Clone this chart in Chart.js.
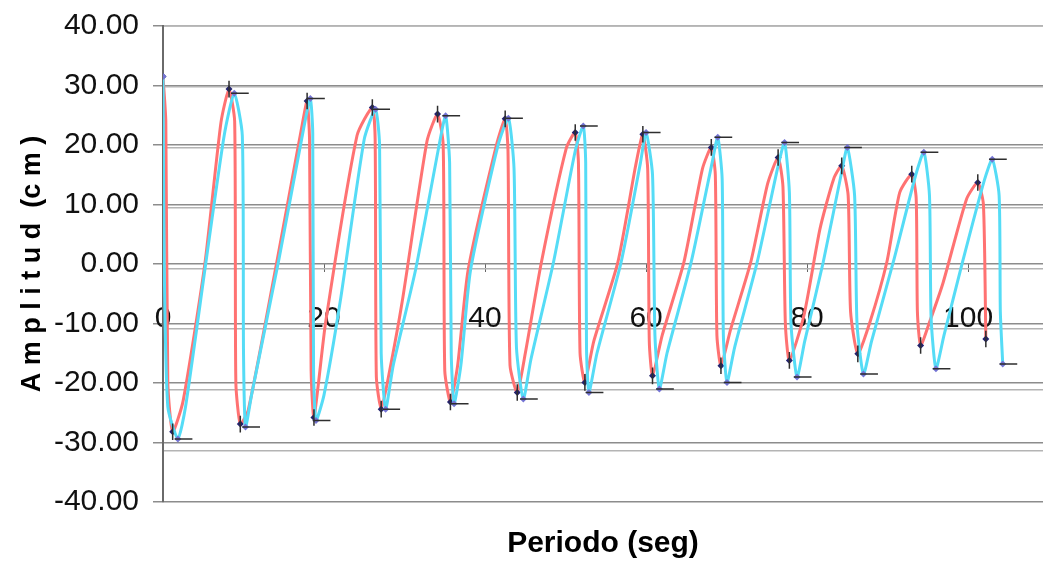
<!DOCTYPE html>
<html>
<head>
<meta charset="utf-8">
<script src="https://cdn.jsdelivr.net/npm/chart.js@4/dist/chart.umd.min.js"></script>
<style>
  body { margin: 0; background: #ffffff; }
  #contenedor { width: 1047px; height: 568px; }
</style>
</head>
<body>
<div id="contenedor"><canvas id="graficoAmplitud" width="1047" height="568"></canvas></div>
<script>
// serie roja
const tiempoRojo = [0, 0.35, 0.6, 1.2, 2.5, 5.2, 7.2, 8.2, 8.9, 9.05, 9.6, 10.6, 14.2, 17.3, 17.9, 18.2, 18.4, 18.75,
  20.2, 24.1, 26.0, 26.35, 26.5, 27.1, 28.0, 29.7, 32.8, 34.1, 34.8, 35.0, 35.7, 36.6, 37.9, 41.4, 42.5, 42.85, 43.1, 44.0,
  45.0, 47.0, 50.1, 51.2, 51.6, 51.8, 52.4, 53.5, 56.5, 58.7, 59.6, 60.2, 60.4, 60.8, 62.0, 64.7, 67.0, 68.1, 68.6, 68.8, 69.3,
  70.5, 73.0, 75.1, 76.4, 77.0, 77.3, 77.8, 79.6, 81.6, 83.3, 84.3, 85.1, 85.4, 86.3, 87.8, 89.9, 91.5, 93.0, 93.55, 93.7, 94.1,
  95.2, 96.9, 99.8, 101.2, 101.9, 102.2];
const amplitudRojo = [31.5, 24, -20, -28.2, -23, 0, 23.8, 29.4, 24, -20, -26.9, -24.5, 0.8, 23.5, 27.4, 21, -18, -25.8,
  -9.8, 21.6, 26.3, 21, -19, -24.4, -19, -6.4, 20.7, 25.2, 20, -18, -23.2, -17, -1, 19.9, 24.4, 19, -17, -21.6,
  -15, 0.3, 19.5, 22.1, 17, -15, -19.9, -13, 0.3, 16.5, 21.8, 16, -13, -18.8, -12, 0.3, 16, 19.6, 15, -12, -17.1,
  -11, 0.3, 13.5, 17.9, 13, -10, -16.2, -8.7, 5.9, 14.3, 16.5, 11.5, -8, -15.1, -9.8, 0.3, 12.0, 15.1, 11, -8, -13.7,
  -9.8, -3.1, 10.9, 13.7, 10, -12.6];

// serie celeste
const tiempoCian = [0, 0.15, 0.6, 1.85, 2.8, 5.3, 7.6, 8.85, 9.85, 10.0, 10.25, 11.0, 14.4, 17.5, 18.3, 18.6, 18.7, 19.0,
  20.0, 22.0, 25.0, 26.4, 26.9, 27.1, 27.65, 28.6, 31.4, 34.3, 35.1, 35.6, 35.8, 36.15, 37.0, 38.2, 41.6, 42.9, 43.6, 43.9, 44.75,
  45.7, 48.5, 51.2, 52.2, 52.5, 52.6, 52.9, 53.9, 56.9, 59.3, 60.0, 60.8, 61.1, 61.65, 62.6, 65.6, 68.2, 68.9, 69.45, 69.6, 70.05,
  71.0, 73.8, 76.4, 77.2, 77.8, 78.0, 78.75, 79.7, 82.0, 84.3, 85.0, 85.9, 86.2, 87.0, 88.0, 90.7, 93.5, 94.5, 95.2, 95.4, 96.0,
  97.0, 99.3, 102.0, 103.0, 103.85, 104.0, 104.3];
const amplitudCian = [31.5, 0, -24, -29.4, -24, 0, 21.6, 28.7, 21.6, -15, -27.4, -22, 0.8, 23, 27.8, 22, -18, -26.3,
  -22, -6.4, 21, 26.0, 20, -15, -24.4, -17, -0.8, 20, 24.9, 17, -15, -23.5, -17, -1, 19.9, 24.5, 16, -14, -22.7,
  -16, 0.3, 19, 23.2, 17, -14, -21.6, -15, 0.3, 17, 22.1, 15, -12, -21.0, -15, 0.3, 17, 21.3, 14.3, -12, -19.9,
  -14, 0.3, 16.5, 20.4, 12, -10, -19.0, -13, 0.3, 15.5, 19.6, 11.5, -10, -18.5, -13, 0.3, 15, 18.8, 11.5, -9, -17.6,
  -12, 0.3, 14, 17.6, 11.5, -8, -16.8];

const errorTiempo = 1.8;
const errorAmplitud = 1.4;

const marcasX = [0, 20, 40, 60, 80, 100];
const marcasY = [-40, -30, -20, -10, 0, 10, 20, 30, 40];
const marcasY2 = [-30, -20, -10, 0, 10, 20, 30, 40];

const fuente = "'Liberation Sans', Arial, sans-serif";

function puntos(ts, ys) {
    return ts.map((t, i) => ({ x: t, y: ys[i] }));
}

function esExtremo(ys, i) {
    if (i === 0 || i === ys.length - 1) return true;
    return (ys[i] > ys[i - 1] && ys[i] > ys[i + 1]) || (ys[i] < ys[i - 1] && ys[i] < ys[i + 1]);
}

function barrasError() {
    const segs = [];
    tiempoCian.forEach((t, i) => {
        if (i === 0 || !esExtremo(amplitudCian, i)) return;
        const y = amplitudCian[i];
        segs.push({ x: t - 0.4, y: y }, { x: t + errorTiempo, y: y }, { x: t, y: null });
    });
    tiempoRojo.forEach((t, i) => {
        if (i === 0 || !esExtremo(amplitudRojo, i)) return;
        const y = amplitudRojo[i];
        segs.push({ x: t, y: y - errorAmplitud }, { x: t, y: y + errorAmplitud }, { x: t, y: null });
    });
    return segs;
}

const ctx = document.getElementById('graficoAmplitud').getContext('2d');
new Chart(ctx, {
    type: 'line',
    data: {
        datasets: [{
            label: 'Error',
            data: barrasError(),
            borderColor: '#2e2e2e',
            borderWidth: 1.5,
            pointRadius: 0,
            spanGaps: false,
            tension: 0
        }, {
            label: 'Serie 2',
            data: puntos(tiempoCian, amplitudCian),
            borderColor: '#55dcf6',
            borderWidth: 3,
            tension: 0.2,
            pointRadius: c => esExtremo(amplitudCian, c.dataIndex) ? 3.5 : 0,
            pointStyle: 'rectRot',
            pointBackgroundColor: '#7474d4',
            pointBorderWidth: 0
        }, {
            label: 'Serie 1',
            data: puntos(tiempoRojo, amplitudRojo),
            borderColor: '#ff7272',
            borderWidth: 3,
            tension: 0.2,
            pointRadius: c => esExtremo(amplitudRojo, c.dataIndex) ? 3.5 : 0,
            pointStyle: 'rectRot',
            pointBackgroundColor: '#23236e',
            pointBorderWidth: 0
        }]
    },
    options: {
        responsive: false,
        animation: false,
        layout: {
            padding: { top: 0, left: 0, right: 0, bottom: 0 }
        },
        plugins: {
            legend: { display: false },
            tooltip: { enabled: false }
        },
        scales: {
            x: {
                type: 'linear',
                position: { y: 0 },
                min: 0,
                max: 109.3,
                afterBuildTicks: s => { s.ticks = marcasX.map(v => ({ value: v })); },
                ticks: {
                    font: { family: fuente, size: 30, lineHeight: 0.8 },
                    color: '#111111',
                    padding: 35,
                    maxRotation: 0
                },
                grid: {
                    drawOnChartArea: false,
                    drawTicks: true,
                    tickLength: 8,
                    color: '#666666'
                },
                border: { display: false }
            },
            xTitulo: {
                type: 'linear',
                axis: 'x',
                position: 'bottom',
                min: 0,
                max: 109.3,
                ticks: { display: false },
                grid: { display: false },
                border: { display: false },
                title: {
                    display: true,
                    text: 'Periodo (seg)',
                    color: '#000000',
                    font: { family: fuente, size: 30, weight: 'bold' },
                    padding: { top: 22, bottom: 6 }
                },
                afterFit: s => { s.height = 66; }
            },
            y: {
                position: 'left',
                min: -40,
                max: 40,
                afterBuildTicks: s => { s.ticks = marcasY.map(v => ({ value: v })); },
                ticks: {
                    callback: v => v.toFixed(2),
                    font: { family: fuente, size: 30, lineHeight: 0.8 },
                    color: '#111111',
                    padding: 14
                },
                grid: {
                    color: '#8c8c8c',
                    lineWidth: 1.5,
                    tickLength: 10
                },
                border: { color: '#6a6a6a', width: 2 },
                title: {
                    display: true,
                    text: 'A m p l i t u d  (c m )',
                    color: '#000000',
                    font: { family: fuente, size: 27, weight: 'bold' },
                    padding: { top: 16, bottom: 0 }
                },
                afterFit: s => { s.width = 163; }
            },
            y2: {
                position: 'right',
                min: -38.5,
                max: 40,
                afterBuildTicks: s => { s.ticks = marcasY2.map(v => ({ value: v })); },
                ticks: { display: false },
                grid: {
                    color: '#b4b4b4',
                    lineWidth: 1.5,
                    drawTicks: false
                },
                border: { display: false },
                afterFit: s => { s.width = 0; }
            }
        }
    }
});
</script>
</body>
</html>
